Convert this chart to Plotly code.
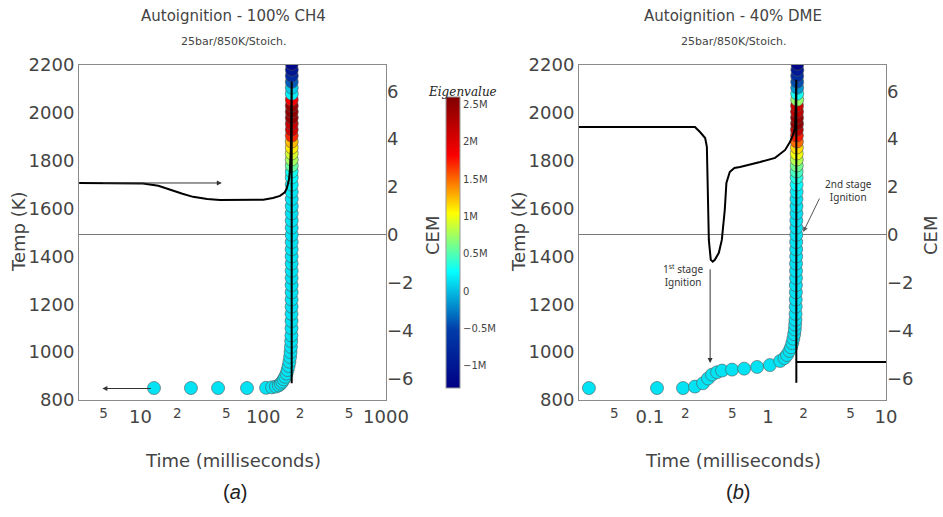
import numpy as np
import plotly.graph_objects as go

W, H = 943, 517

# ---------------- Panel (a): 100% CH4 ----------------
a_time = [12.9, 25.8, 42.9, 73.8, 105.5, 118, 127, 134, 139, 143, 147, 151, 155, 158, 161, 163.5,
          165.5, 167, 168.2, 169.1, 169.7,
          170.0, 170.1, 170.2, 170.3, 170.3, 170.4, 170.4, 170.4, 170.5, 170.5, 170.5, 170.5,
          170.6, 170.6, 170.6, 170.6, 170.6, 170.7, 170.7, 170.7, 170.7, 170.7,
          170.7, 170.8, 170.8, 170.8, 170.8, 170.8, 170.8, 170.8, 170.9, 170.9, 170.9, 170.9,
          170.9, 170.9, 170.9, 170.9, 171.0, 171.0, 171.0, 171.0]
a_temp = [850, 850, 850, 850, 851, 853, 856, 861, 868, 876, 886, 897, 910, 925, 942, 960,
          980, 1000, 1022, 1046, 1070,
          1100, 1130, 1160, 1190, 1220, 1250, 1280, 1310, 1340, 1370, 1400, 1430,
          1460, 1490, 1520, 1550, 1580, 1610, 1640, 1670, 1700, 1730,
          1755, 1780, 1805, 1830, 1855, 1880, 1905, 1930, 1955, 1980, 2005, 2030,
          2055, 2080, 2105, 2130, 2155, 2180, 2205, 2230]
a_eig = [0.15e6] * 21 + [
          0.15e6, 0.14e6, 0.15e6, 0.13e6, 0.15e6, 0.14e6, 0.15e6, 0.13e6, 0.15e6, 0.14e6, 0.15e6, 0.15e6,
          0.14e6, 0.15e6, 0.13e6, 0.15e6, 0.14e6, 0.15e6, 0.15e6, 0.16e6, 0.2e6, 0.25e6,
          0.3e6, 0.55e6, 0.75e6, 0.9e6, 1.1e6, 1.25e6, 1.7e6, 2.1e6, 2.15e6, 2.45e6, 2.5e6, 2.45e6,
          1.85e6, 0.2e6, 0.05e6, -0.4e6, -0.75e6, -1.0e6, -1.2e6, -1.25e6]
a_cem_time = [3.17, 6, 10.5, 14, 17.4, 22, 26.8, 35, 44.5, 64.7, 80, 100, 120, 137, 150, 156,
              162, 165, 168, 170.6, 170.6]
a_cem = [2.17, 2.17, 2.15, 2.05, 1.88, 1.72, 1.59, 1.5, 1.46, 1.46, 1.45, 1.47, 1.54, 1.63, 1.78, 1.96,
         2.3, 2.72, 3.6, 6.4, -6.2]

# ---------------- Panel (b): 40% DME ----------------
b_time = [0.0305, 0.115, 0.191, 0.241, 0.282, 0.311, 0.336, 0.371, 0.409, 0.497, 0.629, 0.81,
          1.04, 1.27, 1.38, 1.45, 1.52, 1.57, 1.61, 1.64, 1.67, 1.69, 1.70, 1.71,
          1.715, 1.72, 1.72, 1.725, 1.725, 1.73, 1.73, 1.73, 1.735, 1.735, 1.735, 1.74,
          1.74, 1.74, 1.745, 1.745, 1.745, 1.75, 1.75, 1.75,
          1.75, 1.755, 1.755, 1.755, 1.76, 1.76, 1.76, 1.76, 1.765, 1.765, 1.765, 1.765,
          1.77, 1.77, 1.77, 1.77, 1.77, 1.775, 1.775, 1.775]
b_temp = [850, 850, 850, 856, 870, 890, 906, 916, 923, 927, 931, 938,
          946, 963, 975, 988, 1005, 1020, 1038, 1056, 1075, 1095, 1115, 1135,
          1160, 1190, 1220, 1250, 1280, 1310, 1340, 1370, 1400, 1430, 1460, 1490,
          1520, 1550, 1580, 1610, 1640, 1670, 1700, 1730,
          1755, 1780, 1805, 1830, 1855, 1880, 1905, 1930, 1955, 1980, 2005, 2030,
          2055, 2080, 2105, 2130, 2155, 2180, 2205, 2230]
b_eig = [0.15e6] * 24 + [
          0.15e6, 0.14e6, 0.15e6, 0.13e6, 0.15e6, 0.14e6, 0.15e6, 0.13e6, 0.15e6, 0.14e6, 0.15e6, 0.15e6,
          0.14e6, 0.15e6, 0.13e6, 0.15e6, 0.14e6, 0.18e6, 0.25e6, 0.35e6,
          0.45e6, 0.6e6, 0.8e6, 1.0e6, 1.15e6, 1.5e6, 1.75e6, 2.2e6, 2.5e6, 2.45e6, 2.2e6, 2.1e6,
          0.7e6, 0.3e6, -0.15e6, -0.45e6, -0.7e6, -0.95e6, -1.2e6, -1.25e6]
b_cem_time = [0.0251, 0.1, 0.2, 0.241, 0.266, 0.294, 0.304, 0.312, 0.316, 0.328, 0.341, 0.355,
              0.384, 0.407, 0.431, 0.445, 0.475, 0.52, 0.58, 0.86, 1.15, 1.40, 1.54, 1.63,
              1.70, 1.74, 1.74, 1.74, 10.0]
b_cem = [4.51, 4.51, 4.51, 4.51, 4.30, 4.05, 3.68, 1.46, -0.21, -1.04, -1.12, -1.04,
         -0.75, -0.21, 1.04, 2.17, 2.63, 2.80, 2.84, 3.05, 3.22, 3.55, 3.89, 4.18,
         4.47, 6.48, -6.18, -5.31, -5.31]

eig_tickvals = [-1e6, -0.5e6, 0, 0.5e6, 1e6, 1.5e6, 2e6, 2.5e6]
eig_ticktext = ["\u22121M", "\u22120.5M", "0", "0.5M", "1M", "1.5M", "2M", "2.5M"]

FONT = "DejaVu Sans"
TXT = "#444444"
LINE = "#8a8a8a"


def px(x):
    return x / W


def py(y):
    return 1 - y / H


fig = go.Figure()

marker_common = dict(size=13, coloraxis="coloraxis", line=dict(color="#555555", width=0.6))

fig.add_trace(go.Scatter(x=a_time, y=a_temp, mode="markers", xaxis="x", yaxis="y",
                         marker=dict(color=a_eig, **marker_common), showlegend=False))
fig.add_trace(go.Scatter(x=a_cem_time, y=a_cem, mode="lines", xaxis="x", yaxis="y2",
                         line=dict(color="black", width=2), showlegend=False))
fig.add_trace(go.Scatter(x=b_time, y=b_temp, mode="markers", xaxis="x2", yaxis="y3",
                         marker=dict(color=b_eig, **marker_common), showlegend=False))
fig.add_trace(go.Scatter(x=b_cem_time, y=b_cem, mode="lines", xaxis="x2", yaxis="y4",
                         line=dict(color="black", width=2), showlegend=False))

dom_y = [py(400), py(65)]
xcommon = dict(type="log", dtick="D2", exponentformat="none", showgrid=False, zeroline=False,
               showline=True, linecolor=LINE, linewidth=1, mirror=True, ticks="", automargin=False,
               tickfont=dict(size=18, color=TXT, family=FONT))
ycommon = dict(range=[800, 2200], dtick=200, showgrid=False, zeroline=False, showline=True,
               linecolor=LINE, linewidth=1, mirror=True, ticks="", domain=dom_y, automargin=False,
               tickfont=dict(size=18, color=TXT, family=FONT))
y2common = dict(range=[-6.9, 7.1], dtick=2, side="right", showgrid=False, zeroline=True,
                zerolinecolor="#777777", zerolinewidth=1, showline=False, ticks="", automargin=False,
                tickfont=dict(size=18, color=TXT, family=FONT))

fig.update_layout(
    width=W, height=H, margin=dict(l=0, r=0, t=0, b=0, autoexpand=False),
    paper_bgcolor="white", plot_bgcolor="white",
    font=dict(family=FONT, color=TXT),
    xaxis=dict(domain=[px(79), px(386)], range=[0.5, 3.0], anchor="y", **xcommon),
    yaxis=dict(anchor="x", **ycommon),
    yaxis2=dict(overlaying="y", anchor="x", **y2common),
    xaxis2=dict(domain=[px(579), px(886)], range=[-1.6, 1.0], anchor="y3", **xcommon),
    yaxis3=dict(anchor="x2", **ycommon),
    yaxis4=dict(overlaying="y3", anchor="x2", **y2common),
    coloraxis=dict(
        colorscale="Jet", cmin=-1.3e6, cmax=2.6e6,
        colorbar=dict(x=px(446), xanchor="left", y=py(242.5), yanchor="middle",
                      len=291 / H, lenmode="fraction", thickness=14, thicknessmode="pixels",
                      outlinewidth=1, outlinecolor="#999999", xpad=0, ypad=0,
                      tickvals=eig_tickvals, ticktext=eig_ticktext, ticks="",
                      tickfont=dict(size=10, color=TXT, family=FONT)),
    ),
)

ann = []


def text(x, y, s, size, **kw):
    d = dict(x=px(x), y=py(y), xref="paper", yref="paper", text=s, showarrow=False,
             font=dict(size=size, color=kw.pop("color", TXT), family=kw.pop("family", FONT)),
             xanchor=kw.pop("xanchor", "center"), yanchor=kw.pop("yanchor", "middle"))
    d.update(kw)
    ann.append(d)


# titles
text(233, 16, "Autoignition - 100% CH4", 15)
text(233, 41, "25bar/850K/Stoich.", 11)
text(733, 16, "Autoignition - 40% DME", 15)
text(733, 41, "25bar/850K/Stoich.", 11)
# axis titles
text(233, 460, "Time (milliseconds)", 18)
text(733, 460, "Time (milliseconds)", 18)
text(18, 232, "Temp (K)", 18, textangle=-90)
text(518, 232, "Temp (K)", 18, textangle=-90)
text(432, 236, "CEM", 18, textangle=-90)
text(930, 236, "CEM", 18, textangle=-90)
# panel labels
text(235, 492, "(<i>a</i>)", 20, family="Liberation Sans", color="#222222")
text(738, 492, "(<i>b</i>)", 20, family="Liberation Sans", color="#222222")
# colorbar title
text(462, 92, "<i>Eigenvalue</i>", 12, family="DejaVu Serif", color="#222222")

# arrows panel (a)
ann.append(dict(x=np.log10(46), y=2.17, xref="x", yref="y2", ax=-120, ay=0, text="",
                showarrow=True, arrowhead=2, arrowsize=1, arrowwidth=1, arrowcolor="#333333"))
ann.append(dict(x=np.log10(4.9), y=848, xref="x", yref="y", ax=50, ay=0, text="",
                showarrow=True, arrowhead=2, arrowsize=1, arrowwidth=1, arrowcolor="#333333"))
# arrows panel (b)
ann.append(dict(x=np.log10(0.324), y=955, xref="x2", yref="y3", ax=0, ay=-95, text="",
                showarrow=True, arrowhead=2, arrowsize=1, arrowwidth=1, arrowcolor="#333333"))
ann.append(dict(x=np.log10(1.99), y=0.12, xref="x2", yref="y4", ax=17, ay=-35, text="",
                showarrow=True, arrowhead=2, arrowsize=1, arrowwidth=1, arrowcolor="#555555"))
text(683, 275, "1<sup>st</sup> stage<br>Ignition", 10, family="Noto Sans", color="#333333")
text(848, 191, "2nd stage<br>Ignition", 10, family="Noto Sans", color="#333333")

fig.update_layout(annotations=ann)

fig.write_html("out.html", config={"displayModeBar": False},
               post_script="document.body.style.margin='0';document.body.style.overflow='hidden';")
